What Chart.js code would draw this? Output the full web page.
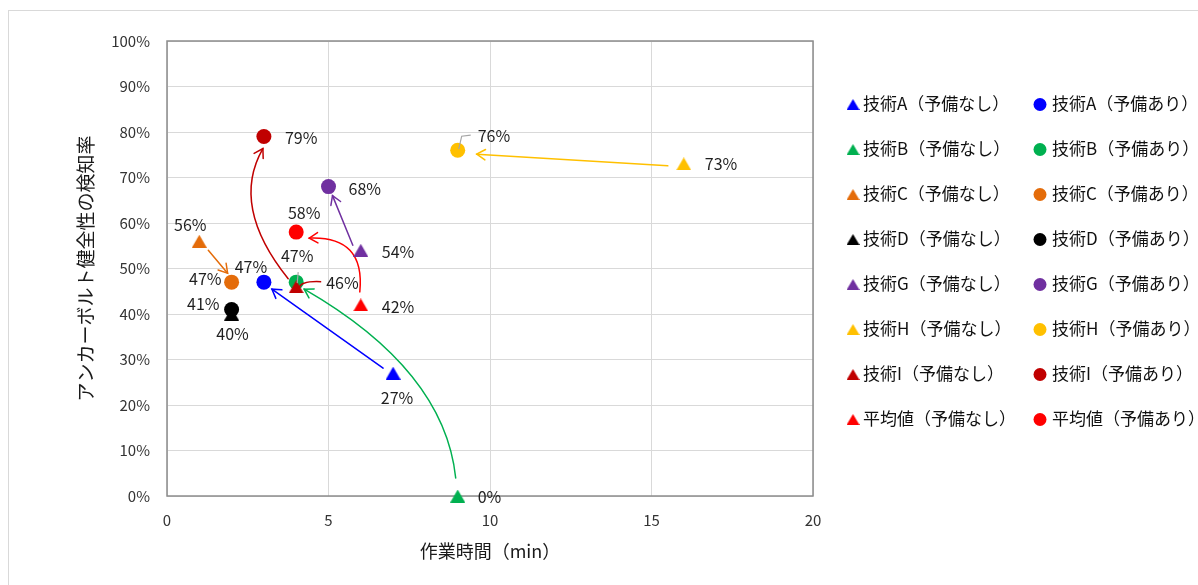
<!DOCTYPE html>
<html lang="ja">
<head>
<meta charset="utf-8">
<script src="https://cdn.jsdelivr.net/npm/chart.js@4.4.1/dist/chart.umd.min.js"></script>
<style>
  html, body { margin: 0; padding: 0; background: #fff; }
  #frame { position: absolute; left: 8px; top: 10px; width: 1400px; height: 800px; border: 1px solid #d9d9d9; box-sizing: border-box; }
  #c { position: absolute; left: 0; top: 0; }
</style>
</head>
<body>
<div id="frame"></div>
<canvas id="c" width="1198" height="585"></canvas>
<script>
// ---- data ----
const techniques   = ['技術A', '技術B', '技術C', '技術D', '技術G', '技術H', '技術I', '平均値'];
const timeWithout  = [7, 9, 1, 2, 6, 16, 4, 6];        // 作業時間 (min), 予備なし
const rateWithout  = [27, 0, 56, 40, 54, 73, 46, 42];  // 検知率 (%), 予備なし
const timeWith     = [3, 4, 2, 2, 5, 9, 3, 4];         // 作業時間 (min), 予備あり
const rateWith     = [47, 47, 47, 41, 68, 76, 79, 58]; // 検知率 (%), 予備あり
const xTicks = [0, 5, 10, 15, 20];
const yTicks = [0, 10, 20, 30, 40, 50, 60, 70, 80, 90, 100];
const suffixWithout = '（予備なし）';
const suffixWith    = '（予備あり）';

// ---- styles ----
const colors = ['#0000FF', '#00B050', '#E46C0A', '#000000', '#7030A0', '#FFC000', '#C00000', '#FF0000'];
const FONT = '"Noto Sans CJK JP", "Noto Sans", sans-serif';
const TICK = '#333333';
const LABEL = '#1f1f1f';

// label placement relative to the marker (px)
const labelWithout = [
  { dx: 4,  dy: 25,  align: 'center' },
  { dx: 20, dy: 1,   align: 'left' },
  { dx: -9, dy: -16, align: 'center' },
  { dx: 1,  dy: 20,  align: 'center' },
  { dx: 21, dy: 2,   align: 'left' },
  { dx: 21, dy: 0,   align: 'left' },
  { dx: 30, dy: -4,  align: 'left' },
  { dx: 21, dy: 2,   align: 'left' }
];
const labelWith = [
  { dx: -13, dy: -15, align: 'center' },
  { dx: 1,   dy: -26, align: 'center' },
  { dx: -10, dy: -3,  align: 'right' },
  { dx: -12, dy: -6,  align: 'right' },
  { dx: 20,  dy: 2,   align: 'left' },
  { dx: 20,  dy: -14, align: 'left' },
  { dx: 21,  dy: 1,   align: 'left' },
  { dx: 8,   dy: -19, align: 'center' }
];

// arrow from 予備なし to 予備あり: pixel gaps at each end, control point (a along chord, b across it)
const arrowStyle = [
  { start: [-10, -5], end: [8, 7],   a: 0.5,   b: 0 },
  { start: [-2, -18], end: [8, 7],   a: 0.377, b: 0.243 },
  { start: [9, 9],    end: [-4, -9], a: 0.5,   b: 0 },
  null,
  { start: [-8, -5],  end: [4, 9],   a: 0.5,   b: 0 },
  { start: [-16, 2],  end: [19, 4],  a: 0.5,   b: 0 },
  { start: [-8, -8],  end: [-1, 12], a: 0.622, b: -0.327 },
  { start: [-1, -13], end: [13, 6],  a: 0.503, b: 0.576 }
];

// triangle marker centred on its bounding box
function triangleMarker(color, w, h) {
  const cv = document.createElement('canvas');
  cv.width = w; cv.height = h;
  const g = cv.getContext('2d');
  g.fillStyle = color;
  g.beginPath();
  g.moveTo(w / 2, 0);
  g.lineTo(w, h);
  g.lineTo(0, h);
  g.closePath();
  g.fill();
  return cv;
}

// ---- datasets ----
const datasets = [];
techniques.forEach((name, i) => {
  datasets.push({
    label: name + suffixWithout,
    data: [{ x: timeWithout[i], y: rateWithout[i] }],
    pointStyle: triangleMarker(colors[i], 15, 13), pointRadius: 8, pointHoverRadius: 8,
    backgroundColor: colors[i], borderColor: colors[i], borderWidth: 0, clip: false,
    markerKind: 'triangle'
  });
  datasets.push({
    label: name + suffixWith,
    data: [{ x: timeWith[i], y: rateWith[i] }],
    pointStyle: 'circle', pointRadius: 7.5, pointHoverRadius: 7.5,
    backgroundColor: colors[i], borderColor: colors[i], borderWidth: 0, clip: false,
    markerKind: 'circle'
  });
});
datasets.forEach((d, k) => { d.order = datasets.length - k; });

function px(chart, x, y) {
  return [chart.scales.x.getPixelForValue(x), chart.scales.y.getPixelForValue(y)];
}

function arrowHead(ctx, tip, from, len, ang) {
  const t = Math.atan2(tip[1] - from[1], tip[0] - from[0]);
  ctx.beginPath();
  ctx.moveTo(tip[0] - len * Math.cos(t - ang), tip[1] - len * Math.sin(t - ang));
  ctx.lineTo(tip[0], tip[1]);
  ctx.lineTo(tip[0] - len * Math.cos(t + ang), tip[1] - len * Math.sin(t + ang));
  ctx.stroke();
}

// plot frame + arrows under the markers
const arrowsPlugin = {
  id: 'arrows',
  beforeDatasetsDraw(chart) {
    const ctx = chart.ctx, ca = chart.chartArea;
    ctx.save();
    ctx.strokeStyle = '#8c8c8c';
    ctx.lineWidth = 1.5;
    ctx.strokeRect(ca.left, ca.top, ca.right - ca.left, ca.bottom - ca.top);
    ctx.lineCap = 'round';
    techniques.forEach((_, i) => {
      const s = arrowStyle[i];
      if (!s) return;
      const p0 = px(chart, timeWithout[i], rateWithout[i]);
      const p2 = px(chart, timeWith[i], rateWith[i]);
      const a = [p0[0] + s.start[0], p0[1] + s.start[1]];
      const b = [p2[0] + s.end[0], p2[1] + s.end[1]];
      const dx = b[0] - a[0], dy = b[1] - a[1], L = Math.hypot(dx, dy);
      const ux = dx / L, uy = dy / L;
      const c = [a[0] + s.a * dx + s.b * L * (-uy), a[1] + s.a * dy + s.b * L * ux];
      ctx.strokeStyle = colors[i];
      ctx.beginPath();
      ctx.moveTo(a[0], a[1]);
      ctx.quadraticCurveTo(c[0], c[1], b[0], b[1]);
      ctx.stroke();
      arrowHead(ctx, b, s.b === 0 ? a : c, 10, 0.55);
    });
    ctx.restore();
  }
};

// value labels and leader lines
const labelsPlugin = {
  id: 'valueLabels',
  afterDatasetsDraw(chart) {
    const ctx = chart.ctx;
    ctx.save();
    ctx.lineWidth = 1.2;
    ctx.strokeStyle = '#a6a6a6';
    let p = px(chart, timeWith[5], rateWith[5]);
    ctx.beginPath();
    ctx.moveTo(p[0] + 1, p[1] - 1); ctx.lineTo(p[0] + 4, p[1] - 14); ctx.lineTo(p[0] + 13, p[1] - 15);
    ctx.stroke();
    p = px(chart, timeWith[1], rateWith[1]);
    ctx.beginPath();
    ctx.moveTo(p[0] + 1, p[1] + 1); ctx.lineTo(p[0] + 2, p[1] - 10);
    ctx.stroke();
    p = px(chart, timeWithout[6], rateWithout[6]);
    ctx.strokeStyle = colors[6];
    ctx.lineWidth = 1.5;
    ctx.beginPath();
    ctx.moveTo(p[0] + 25, p[1] - 5); ctx.quadraticCurveTo(p[0] + 5, p[1] - 6, p[0] + 3, p[1] + 1);
    ctx.stroke();

    ctx.font = '16px ' + FONT;
    ctx.fillStyle = LABEL;
    ctx.textBaseline = 'middle';
    techniques.forEach((_, i) => {
      let q = px(chart, timeWithout[i], rateWithout[i]);
      let s = labelWithout[i];
      ctx.textAlign = s.align;
      ctx.fillText(rateWithout[i] + '%', q[0] + s.dx, q[1] + s.dy);
      q = px(chart, timeWith[i], rateWith[i]);
      s = labelWith[i];
      ctx.textAlign = s.align;
      ctx.fillText(rateWith[i] + '%', q[0] + s.dx, q[1] + s.dy);
    });
    ctx.restore();
  }
};

// two-column legend on the right
const legendPlugin = {
  id: 'sideLegend',
  afterDraw(chart) {
    const ctx = chart.ctx;
    ctx.save();
    ctx.font = '17px ' + FONT;
    ctx.textBaseline = 'middle';
    ctx.textAlign = 'left';
    const cols = [{ mark: 853, text: 863 }, { mark: 1040, text: 1052 }];
    chart.data.datasets.forEach((d, k) => {
      const row = Math.floor(k / 2), col = cols[k % 2];
      const y = 104 + row * 45;
      if (d.markerKind === 'triangle') {
        ctx.drawImage(triangleMarker(d.backgroundColor, 13, 11), col.mark - 6.5, y - 5);
      } else {
        ctx.fillStyle = d.backgroundColor;
        ctx.beginPath();
        ctx.arc(col.mark, y + 0.5, 6.5, 0, Math.PI * 2);
        ctx.fill();
      }
      ctx.fillStyle = '#111111';
      ctx.fillText(d.label, col.text, y);
    });
    ctx.restore();
  }
};

new Chart(document.getElementById('c'), {
  type: 'scatter',
  data: { datasets },
  plugins: [arrowsPlugin, labelsPlugin, legendPlugin],
  options: {
    responsive: false,
    devicePixelRatio: 1,
    animation: false,
    events: [],
    layout: { padding: { left: 0, top: 41, right: 385, bottom: 0 } },
    plugins: { legend: { display: false }, tooltip: { enabled: false } },
    scales: {
      x: {
        type: 'linear', min: 0, max: 20,
        afterBuildTicks: s => { s.ticks = xTicks.map(v => ({ value: v })); },
        afterFit: s => { s.height = 89; },
        grid: { color: '#d9d9d9', lineWidth: 1, drawTicks: false },
        border: { display: false },
        ticks: { padding: 15, color: TICK, font: { family: FONT, size: 15 } },
        title: { display: true, text: '作業時間（min）', color: '#1a1a1a',
                 font: { family: FONT, size: 18 }, padding: { top: 0, bottom: 23 } }
      },
      y: {
        type: 'linear', min: 0, max: 100,
        afterBuildTicks: s => { s.ticks = yTicks.map(v => ({ value: v })); },
        afterFit: s => { s.width = 167; },
        grid: { color: '#d9d9d9', lineWidth: 1, drawTicks: false },
        border: { display: false },
        ticks: { padding: 17, color: TICK, font: { family: FONT, size: 15 }, callback: v => v + '%' },
        title: { display: true, text: 'アンカーボルト健全性の検知率', color: '#1a1a1a',
                 font: { family: FONT, size: 19 }, padding: { top: 74, bottom: 0 } }
      }
    }
  }
});
</script>
</body>
</html>
